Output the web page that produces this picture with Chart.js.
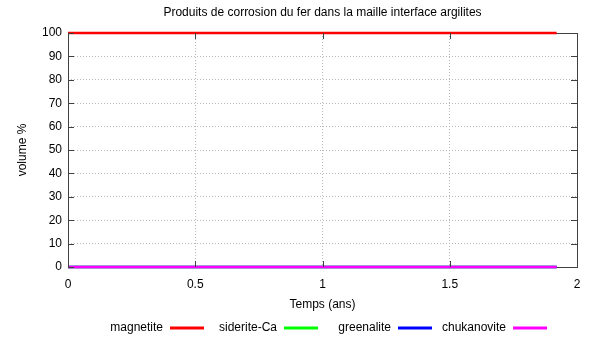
<!DOCTYPE html>
<html><head><meta charset="utf-8">
<script src="https://cdn.jsdelivr.net/npm/chart.js@4/dist/chart.umd.min.js"></script>
<style>html,body{margin:0;padding:0;background:#fff;}#wrap{width:592px;height:337px;}</style>
</head><body><div id="wrap"><canvas id="c" width="592" height="337"></canvas></div>
<script>
const titleText = "Produits de corrosion du fer dans la maille interface argilites";
const xTitle = "Temps (ans)";
const yTitle = "volume %";
const seriesNames = ["magnetite", "siderite-Ca", "greenalite", "chukanovite"];
const seriesColors = ["#ff0000", "#00ff00", "#0000ff", "#ff00ff"];
const times = [0, 0.5, 1, 1.5, 1.92];
const magnetite = [100, 100, 100, 100, 100];
const sideriteCa = [0, 0, 0, 0, 0];
const greenalite = [0, 0, 0, 0, 0];
const chukanovite = [0, 0, 0, 0, 0];
const xTicks = [0, 0.5, 1, 1.5, 2];
const yTicks = [0, 10, 20, 30, 40, 50, 60, 70, 80, 90, 100];

const FONT = "'Liberation Sans', Arial, sans-serif";
const allSeries = [magnetite, sideriteCa, greenalite, chukanovite];

const datasets = allSeries.map((vals, i) => ({
  label: seriesNames[i],
  data: times.map((t, j) => ({x: t, y: vals[j]})),
  borderColor: seriesColors[i],
  backgroundColor: seriesColors[i],
  borderWidth: 2.5,
  pointRadius: 0,
  tension: 0,
  clip: false,
  order: 4 - i
}));

const framePlugin = {
  id: 'frame',
  beforeDatasetsDraw(chart) {
    const ctx = chart.ctx, a = chart.chartArea;
    ctx.save();
    ctx.strokeStyle = '#404040';
    ctx.lineWidth = 1;
    ctx.strokeRect(Math.round(a.left) + 0.5, Math.round(a.top) + 0.5, Math.round(a.right - a.left), Math.round(a.bottom - a.top));
    ctx.restore();
  },
  afterDraw(chart) {
    const ctx = chart.ctx, a = chart.chartArea;
    const xs = chart.scales.x, ys = chart.scales.y;
    ctx.save();
    ctx.strokeStyle = '#404040';
    ctx.lineWidth = 1;
    ctx.setLineDash([]);
    ctx.beginPath();
    yTicks.forEach(v => {
      const y = Math.round(ys.getPixelForValue(v)) + 0.5;
      ctx.moveTo(a.left, y); ctx.lineTo(a.left + 6, y);
      ctx.moveTo(a.right, y); ctx.lineTo(a.right - 6, y);
    });
    xTicks.forEach(v => {
      const x = Math.round(xs.getPixelForValue(v)) + 0.5;
      ctx.moveTo(x, a.bottom); ctx.lineTo(x, a.bottom - 6);
      ctx.moveTo(x, a.top); ctx.lineTo(x, a.top + 6);
    });
    ctx.stroke();
    // title
    ctx.fillStyle = '#000';
    ctx.font = '12px ' + FONT;
    ctx.textAlign = 'center';
    ctx.textBaseline = 'middle';
    ctx.fillText(titleText, (a.left + a.right) / 2, 13);
    // legend
    const lineStarts = [170, 284, 398, 513];
    chart.data.datasets.forEach((ds, i) => {
      const lx = lineStarts[i];
      ctx.textAlign = 'right';
      ctx.fillStyle = '#000';
      ctx.fillText(ds.label, lx - 7, 328);
      ctx.strokeStyle = ds.borderColor;
      ctx.lineWidth = 3;
      ctx.beginPath();
      ctx.moveTo(lx, 328); ctx.lineTo(lx + 34, 328);
      ctx.stroke();
    });
    ctx.restore();
  }
};

new Chart(document.getElementById('c'), {
  type: 'line',
  data: { datasets },
  options: {
    responsive: false,
    animation: false,
    devicePixelRatio: 1,
    layout: { padding: { top: 33, right: 15, bottom: 25, left: 0 } },
    plugins: { legend: { display: false }, title: { display: false }, tooltip: { enabled: false } },
    scales: {
      x: {
        type: 'linear', min: 0, max: 2,
        afterBuildTicks(s) { s.ticks = xTicks.map(v => ({value: v})); },
        afterFit(s) { s.height = 45; },
        ticks: { color: '#000', font: { family: FONT, size: 12 }, padding: 10, maxRotation: 0, callback: v => String(v) },
        grid: { color: '#b8b8b8', lineWidth: 1, drawTicks: false },
        border: { display: false, dash: [1, 2] },
        title: { display: true, text: xTitle, color: '#000', font: { family: FONT, size: 12 }, padding: { top: 3, bottom: 0 } }
      },
      y: {
        type: 'linear', min: 0, max: 100,
        afterBuildTicks(s) { s.ticks = yTicks.map(v => ({value: v})); },
        afterFit(s) { s.width = 68; },
        ticks: { color: '#000', font: { family: FONT, size: 12 }, padding: 6, callback: v => String(v) },
        grid: { color: '#b8b8b8', lineWidth: 1, drawTicks: false },
        border: { display: false, dash: [1, 2] },
        title: { display: true, text: yTitle, color: '#000', font: { family: FONT, size: 12 }, padding: { top: 15, bottom: 0 } }
      }
    }
  },
  plugins: [framePlugin]
});
</script>
</body></html>
